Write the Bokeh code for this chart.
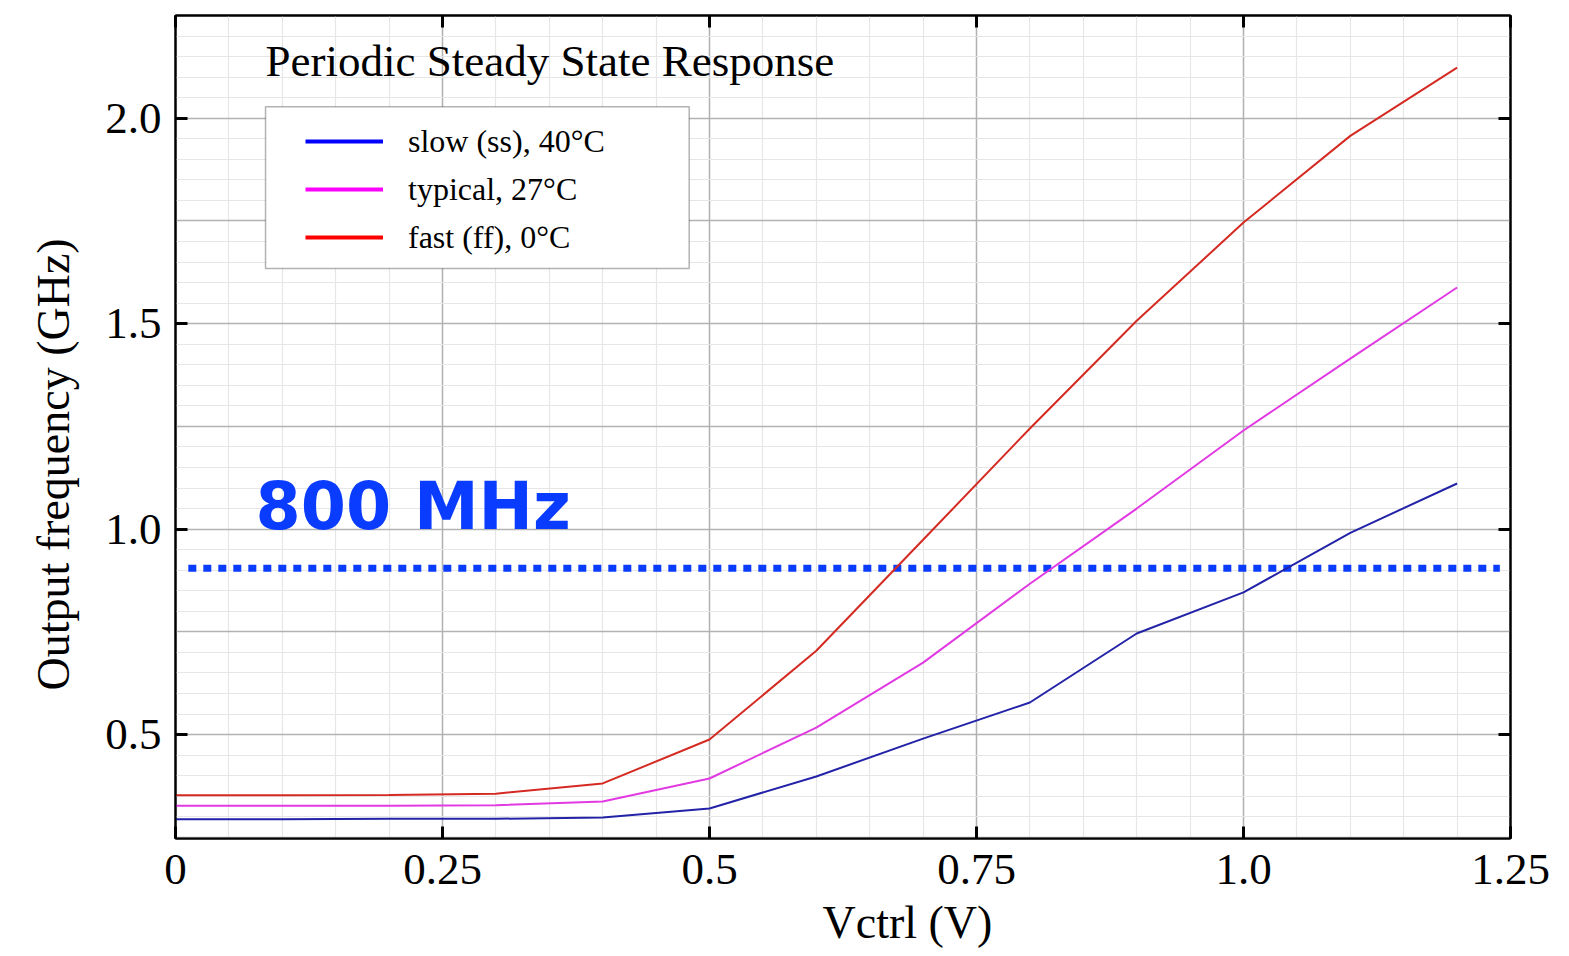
from bokeh.plotting import figure
from bokeh.models import (Range1d, FixedTicker, LinearAxis, Label, BoxAnnotation,
                          Legend, LegendItem, Title)
from bokeh.embed import file_html
from bokeh.resources import INLINE

# ---------------- data ----------------
vctrl = [0.0, 0.1, 0.2, 0.3, 0.4, 0.5, 0.6, 0.7, 0.8, 0.9, 1.0, 1.1, 1.2]
freq_slow = [0.294, 0.294, 0.295, 0.295, 0.298, 0.320, 0.398, 0.490, 0.578, 0.746, 0.846, 0.991, 1.111]
freq_typical = [0.327, 0.327, 0.327, 0.328, 0.337, 0.393, 0.517, 0.675, 0.867, 1.050, 1.240, 1.415, 1.588]
freq_fast = [0.352, 0.352, 0.353, 0.356, 0.381, 0.488, 0.704, 0.974, 1.245, 1.507, 1.746, 1.957, 2.123]
series_labels = ["slow (ss), 40°C", "typical, 27°C", "fast (ff), 0°C"]

ref_freq = 0.905           # dotted reference level (GHz)
ref_x = [0.012, 1.24]      # extent of the dotted reference line (V)

x_ticks = [0.0, 0.25, 0.5, 0.75, 1.0, 1.25]
x_tick_labels = ["0", "0.25", "0.5", "0.75", "1.0", "1.25"]
y_ticks = [0.5, 1.0, 1.5, 2.0]
y_tick_labels = ["0.5", "1.0", "1.5", "2.0"]

# ---------------- styles ----------------
SERIF = "Liberation Serif"
line_colors = ["#2323a8", "#e23ae2", "#d42a22"]
legend_colors = ["#0000ff", "#ff00ff", "#ff0000"]
NAN = float("nan")

p = figure(width=1569, height=956,
           x_range=Range1d(0.0, 1.25), y_range=Range1d(0.247, 2.25),
           output_backend="svg", toolbar_location=None,
           min_border_left=175, min_border_right=59,
           min_border_top=15, min_border_bottom=118)
p.background_fill_color = "white"
p.border_fill_color = "white"
p.outline_line_color = "black"
p.outline_line_width = 2

# grids
grid_x_major = [i * 0.25 for i in range(6)]
grid_x_minor = [round(i * 0.05, 4) for i in range(26)]
grid_y_major = [i * 0.25 for i in range(1, 10)]
grid_y_minor = [round(i * 0.05, 4) for i in range(4, 46)]
p.xgrid.ticker = FixedTicker(ticks=grid_x_major, minor_ticks=grid_x_minor)
p.ygrid.ticker = FixedTicker(ticks=grid_y_major, minor_ticks=grid_y_minor)
for g in (p.xgrid[0], p.ygrid[0]):
    g.grid_line_color = "#b2b2b2"
    g.grid_line_width = 1.5
    g.minor_grid_line_color = "#e6e6e6"
    g.minor_grid_line_width = 1.2


def style_axis(ax, ticks, labels, show_labels=True):
    ax.ticker = FixedTicker(ticks=ticks, minor_ticks=[])
    ax.major_label_overrides = {t: l for t, l in zip(ticks, labels)}
    ax.axis_line_color = "black"
    ax.axis_line_width = 2
    ax.major_tick_in = 12
    ax.major_tick_out = 0
    ax.major_tick_line_width = 3
    ax.major_tick_line_color = "black"
    ax.minor_tick_line_color = None
    ax.major_label_text_font = SERIF
    ax.major_label_text_font_size = "45px"
    ax.major_label_text_color = "black"
    if not show_labels:
        ax.major_label_text_alpha = 0
        ax.major_label_text_font_size = "1px"


xax = p.below[0]
yax = p.left[0]
style_axis(xax, x_ticks, x_tick_labels)
style_axis(yax, y_ticks, y_tick_labels)
xax.major_label_standoff = 16
yax.major_label_standoff = 14

top_ax = LinearAxis()
style_axis(top_ax, x_ticks, x_tick_labels, show_labels=False)
p.add_layout(top_ax, "above")
right_ax = LinearAxis()
style_axis(right_ax, y_ticks, y_tick_labels, show_labels=False)
p.add_layout(right_ax, "right")

# axis titles (as side titles so they can be offset along the axis)
p.add_layout(Title(text="Vctrl (V)", align="left", offset=647, standoff=16,
                   text_font=SERIF, text_font_size="46px",
                   text_font_style="normal", text_color="black"), "below")
p.add_layout(Title(text="Output frequency (GHz)", align="left", offset=148,
                   standoff=48, text_font=SERIF, text_font_size="46px",
                   text_font_style="normal", text_color="black"), "left")

# reference dotted line
p.line(x=ref_x, y=[ref_freq, ref_freq], line_color="#0a3cff", line_width=7,
       line_dash="8 7")

# data lines
series = [freq_slow, freq_typical, freq_fast]
for ys, c in zip(series, line_colors):
    p.line(x=vctrl, y=ys, line_color=c, line_width=2)

# legend frame (white box behind the legend)
p.add_layout(BoxAnnotation(left=0.0843, right=0.481, top=2.028, bottom=1.634,
                           fill_color="white", fill_alpha=1.0,
                           line_color="black", line_width=1.5, level="annotation"))

# legend (driven by point-less renderers using the pure legend colours)
items = []
for lab, c in zip(series_labels, legend_colors):
    r = p.line(x=[NAN], y=[NAN], line_color=c, line_width=4)
    items.append(LegendItem(label=lab, renderers=[r]))

legend = Legend(items=items, location=(117, 568), orientation="vertical",
                glyph_width=78, glyph_height=40, spacing=8, padding=13,
                label_standoff=25, label_text_font=SERIF,
                label_text_font_size="32px", label_text_color="black",
                border_line_alpha=0, background_fill_alpha=0)
legend.level = "overlay"
p.add_layout(legend, "center")

# title and annotation inside the plot
p.add_layout(Label(x=0.0843, y=2.140, text="Periodic Steady State Response",
                   text_font=SERIF, text_font_size="45px", text_color="black",
                   text_baseline="alphabetic"))
p.add_layout(Label(x=0.075, y=1.056, text="800 MHz", text_font="DejaVu Sans",
                   text_font_style="bold", text_font_size="65px",
                   text_color="#0a3cff", text_baseline="alphabetic"))

open("out.html", "w").write(file_html(p, INLINE))
